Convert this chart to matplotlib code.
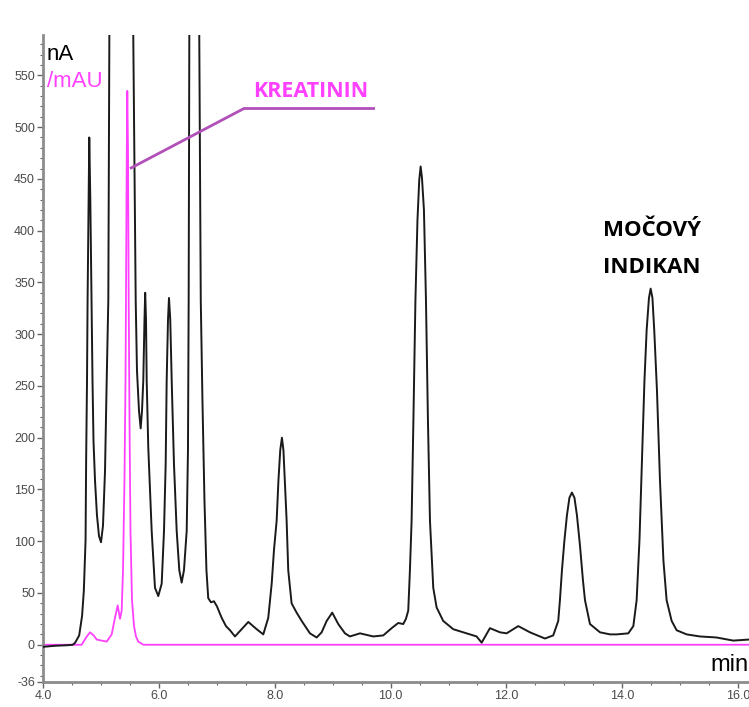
"""
chromatogram: moč, ECD (nA) + UV (mAU) — kreatinin a močový indikan
"""
import matplotlib
matplotlib.use("Agg")
import matplotlib.pyplot as plt
from matplotlib.ticker import MultipleLocator

# ============================================================
# DATA
# ============================================================
# black trace – ECD signal [nA]
ecd_time = [
    4.00, 4.20, 4.41, 4.51, 4.55, 4.62, 4.67, 4.70, 4.73, 4.74, 4.755, 4.765, 4.777, 4.794,
    4.812, 4.832, 4.850, 4.867, 4.893, 4.927, 4.962, 4.997, 5.031, 5.066, 5.095, 5.123, 5.140,
    5.345, 5.554, 5.596, 5.618, 5.653, 5.682, 5.705, 5.727, 5.748, 5.760, 5.774, 5.786, 5.813,
    5.872, 5.929, 5.986, 6.045, 6.085, 6.114, 6.131, 6.154, 6.171, 6.193, 6.218, 6.257, 6.304,
    6.349, 6.390, 6.430, 6.477, 6.499, 6.511, 6.522, 6.608, 6.694, 6.720, 6.749, 6.784, 6.818,
    6.849, 6.896, 6.948, 7.000, 7.081, 7.155, 7.225, 7.311, 7.427, 7.541, 7.686, 7.800, 7.886,
    7.945, 7.984, 8.031, 8.062, 8.093, 8.122, 8.148, 8.179, 8.203, 8.231, 8.289, 8.376, 8.463,
    8.606, 8.722, 8.808, 8.895, 8.991, 9.095, 9.211, 9.297, 9.470, 9.699, 9.872, 10.017, 10.131,
    10.218, 10.264, 10.304, 10.333, 10.362, 10.393, 10.428, 10.463, 10.494, 10.518, 10.541,
    10.575, 10.610, 10.644, 10.679, 10.736, 10.794, 10.908, 11.081, 11.313, 11.485, 11.572,
    11.715, 11.888, 12.003, 12.204, 12.406, 12.665, 12.808, 12.895, 12.924, 12.959, 13.002,
    13.045, 13.088, 13.131, 13.175, 13.218, 13.270, 13.322, 13.357, 13.443, 13.616, 13.789,
    13.905, 14.105, 14.192, 14.249, 14.298, 14.341, 14.384, 14.422, 14.462, 14.491, 14.522,
    14.553, 14.600, 14.652, 14.712, 14.767, 14.854, 14.940, 15.112, 15.342, 15.630, 15.917,
    16.188,
]
ecd_signal = [
    -2, -1, -0.5, 0, 2, 9, 28, 52, 101, 178, 255, 333, 401, 490,
    430, 333, 255, 197, 159, 125, 105, 99, 115, 168, 255, 333, 589,
    2600, 589, 333, 265, 226, 209, 226, 255, 314, 340, 314, 255, 191,
    110, 55, 47, 59, 110, 175, 255, 314, 335, 314, 255, 175, 110,
    72, 60, 72, 110, 188, 333, 589, 2200, 589, 333, 236, 139, 72,
    45, 41, 42, 37, 26, 18, 14, 8, 15, 22, 15, 10, 26,
    59, 91, 120, 159, 188, 200, 188, 149, 120, 72, 40, 31, 23,
    11, 7, 12, 23, 31, 20, 11, 8, 11, 8, 9, 16, 21,
    20, 25, 33, 72, 120, 217, 333, 410, 449, 462, 451,
    420, 333, 217, 120, 55, 36, 23, 15, 11, 8, 2,
    16, 12, 11, 18, 12, 6, 9, 23, 43, 72, 101,
    125, 142, 147, 142, 125, 96, 62, 43, 20, 12, 10,
    10, 11, 18, 43, 101, 178, 255, 304, 335, 344, 335,
    304, 246, 159, 81, 43, 23, 14, 10, 8, 7, 4,
    5,
]

# magenta trace – UV signal [mAU]
uv_time = [
    4.00, 4.55, 4.663, 4.74, 4.807, 4.87, 4.922, 5.095, 5.181, 5.238, 5.285, 5.325, 5.354,
    5.377, 5.402, 5.420, 5.428, 5.442, 5.451, 5.463, 5.475, 5.489, 5.506, 5.532, 5.567,
    5.601, 5.641, 5.727, 16.19,
]
uv_signal = [
    0, 0, 0, 7, 12, 9, 5, 3, 10, 26, 38, 25, 33,
    72, 159, 255, 333, 478, 535, 478, 333, 217, 110, 43, 18,
    8, 3, 0, 0,
]

x_ticks = [4.0, 6.0, 8.0, 10.0, 12.0, 14.0, 16.0]
y_ticks = [-36, 0, 50, 100, 150, 200, 250, 300, 350, 400, 450, 500, 550]

# annotation for creatinine: leader line vertices
kreat_line_x = [5.497, 7.466, 9.729]
kreat_line_y = [460, 518, 518]

# ============================================================
# STYLE
# ============================================================
X_LIM = (4.0, 16.19)
Y_LIM = (-36, 589)
BLACK = "#1a1a1a"
PINK = "#ff40ff"
PURPLE = "#b050b8"
TICK_COL = "#4a4a4a"
SPINE_COL = "#8c8c8c"
# ============================================================


def main() -> None:
    plt.rcParams["axes.unicode_minus"] = False

    fig = plt.figure(figsize=(7.49, 7.07), dpi=100)
    ax = fig.add_axes([43.3 / 749, 25 / 707, 705.7 / 749, 647 / 707])

    ax.plot(uv_time, uv_signal, color=PINK, lw=1.3, zorder=2)
    ax.plot(ecd_time, ecd_signal, color=BLACK, lw=1.4, zorder=3)

    ax.set_xlim(*X_LIM)
    ax.set_ylim(*Y_LIM)

    # axes look
    for side in ("top", "right"):
        ax.spines[side].set_visible(False)
    for side in ("left", "bottom"):
        ax.spines[side].set_color(SPINE_COL)
        ax.spines[side].set_linewidth(2.0)

    ax.set_xticks(x_ticks)
    ax.set_xticklabels([f"{t:.1f}" for t in x_ticks])
    ax.xaxis.set_minor_locator(MultipleLocator(0.5))
    ax.set_yticks(y_ticks)
    ax.yaxis.set_minor_locator(MultipleLocator(10))

    ax.tick_params(axis="both", which="major", length=4, width=1.0, color="#666666",
                   labelsize=9, labelcolor=TICK_COL, pad=2)
    ax.tick_params(axis="both", which="minor", length=2.5, width=0.8, color="#666666")
    for lab in ax.get_xticklabels() + ax.get_yticklabels():
        lab.set_family("Liberation Sans")

    # unit labels
    ax.text(4.06, 570, "nA", color="black", fontsize=16, family="Liberation Sans",
            ha="left", va="center")
    ax.text(4.06, 544, "/mAU", color=PINK, fontsize=16, family="Liberation Sans",
            ha="left", va="center")
    ax.text(16.19, -20, "min", color="black", fontsize=17, family="Liberation Sans",
            ha="right", va="center")

    # annotations
    ax.plot(kreat_line_x, kreat_line_y, color=PURPLE, lw=2.0, zorder=4,
            solid_capstyle="butt")
    ax.text(7.62, 534, "KREATININ", color=PINK, fontsize=15.5, fontweight="bold",
            family="Open Sans", ha="left", va="center")
    ax.text(13.66, 400, "MOČOVÝ", color="black", fontsize=16, fontweight="bold",
            family="Open Sans", ha="left", va="center")
    ax.text(13.66, 364, "INDIKAN", color="black", fontsize=16, fontweight="bold",
            family="Open Sans", ha="left", va="center")

    fig.savefig("out.png", dpi=100)
    plt.close(fig)


if __name__ == "__main__":
    main()
